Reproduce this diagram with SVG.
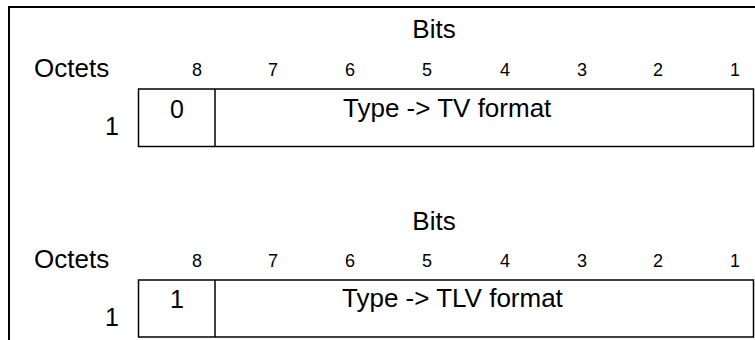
<svg xmlns="http://www.w3.org/2000/svg" width="755" height="340" viewBox="0 0 755 340">
<style>
text{font-family:"Liberation Sans",Arial,sans-serif;fill:#000}
.lbl{font-size:26px}
.num{font-size:18px;text-anchor:middle}
.big{font-size:25px;text-anchor:middle}
.cell{font-size:25px;text-anchor:middle}
.box{fill:#fff;stroke:#000;stroke-width:1.5}
</style>
<rect width="755" height="340" fill="#fff"/>
<path d="M9 340 V7 H755" fill="none" stroke="#000" stroke-width="2"/>
<g id="tv">
<text class="lbl" x="434" y="38" text-anchor="middle">Bits</text>
<text class="lbl" x="34" y="77">Octets</text>
<text class="num" x="197" y="76">8</text>
<text class="num" x="273" y="76">7</text>
<text class="num" x="350" y="76">6</text>
<text class="num" x="427" y="76">5</text>
<text class="num" x="505" y="76">4</text>
<text class="num" x="582" y="76">3</text>
<text class="num" x="658" y="76">2</text>
<text class="num" x="735" y="76">1</text>
<rect class="box" x="138.5" y="89" width="615" height="57.5"/>
<line x1="215" y1="89" x2="215" y2="146.5" stroke="#000" stroke-width="1.5"/>
<text class="cell" x="177" y="118">0</text>
<text class="lbl" x="343" y="117">Type -&gt; TV format</text>
<text class="big" x="112" y="135">1</text>
</g>
<g id="tlv">
<text class="lbl" x="434" y="230" text-anchor="middle">Bits</text>
<text class="lbl" x="34" y="268">Octets</text>
<text class="num" x="197" y="267">8</text>
<text class="num" x="273" y="267">7</text>
<text class="num" x="350" y="267">6</text>
<text class="num" x="427" y="267">5</text>
<text class="num" x="505" y="267">4</text>
<text class="num" x="582" y="267">3</text>
<text class="num" x="658" y="267">2</text>
<text class="num" x="735" y="267">1</text>
<rect class="box" x="138.5" y="280" width="615" height="57"/>
<line x1="215" y1="280" x2="215" y2="337" stroke="#000" stroke-width="1.5"/>
<text class="cell" x="177" y="308">1</text>
<text class="lbl" x="342" y="307">Type -&gt; TLV format</text>
<text class="big" x="112" y="326">1</text>
</g>
</svg>
